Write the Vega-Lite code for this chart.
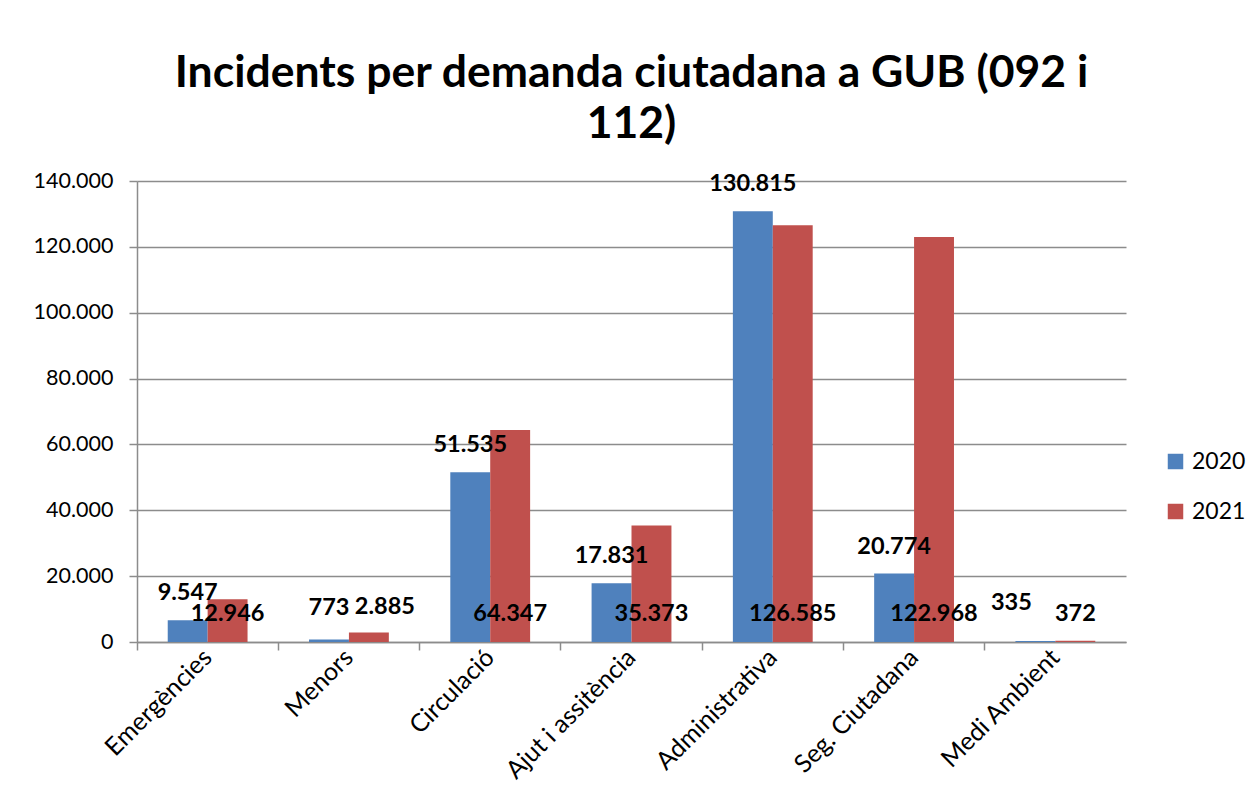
{
  "$schema": "https://vega.github.io/schema/vega-lite/v6.json",
  "autosize": {"type": "none"},
  "width": 989,
  "height": 461,
  "padding": {"left": 137, "top": 181, "right": 133, "bottom": 168},
  "background": "white",
  "title": {
    "text": ["Incidents per demanda ciutadana a GUB (092 i", "112)"],
    "font": "Lato",
    "fontSize": 44.5,
    "fontWeight": "bold",
    "color": "#000000",
    "lineHeight": 51,
    "anchor": "middle",
    "frame": "group",
    "offset": 23
  },
  "config": {
    "view": {"stroke": null},
    "font": "Lato"
  },
  "data": {
    "values": [
      {"cat": "Emergències", "year": "2020", "value": 6600, "label": "9.547"},
      {"cat": "Emergències", "year": "2021", "value": 12946, "label": "12.946"},
      {"cat": "Menors", "year": "2020", "value": 773, "label": "773"},
      {"cat": "Menors", "year": "2021", "value": 2885, "label": "2.885"},
      {"cat": "Circulació", "year": "2020", "value": 51535, "label": "51.535"},
      {"cat": "Circulació", "year": "2021", "value": 64347, "label": "64.347"},
      {"cat": "Ajut i assitència", "year": "2020", "value": 17831, "label": "17.831"},
      {"cat": "Ajut i assitència", "year": "2021", "value": 35373, "label": "35.373"},
      {"cat": "Administrativa", "year": "2020", "value": 130815, "label": "130.815"},
      {"cat": "Administrativa", "year": "2021", "value": 126585, "label": "126.585"},
      {"cat": "Seg. Ciutadana", "year": "2020", "value": 20774, "label": "20.774"},
      {"cat": "Seg. Ciutadana", "year": "2021", "value": 122968, "label": "122.968"},
      {"cat": "Medi Ambient", "year": "2020", "value": 335, "label": "335"},
      {"cat": "Medi Ambient", "year": "2021", "value": 372, "label": "372"}
    ]
  },
  "encoding": {
    "x": {
      "field": "cat",
      "type": "nominal",
      "sort": null,
      "scale": {"paddingInner": 0, "paddingOuter": 0},
      "axis": {
        "title": null,
        "labelAngle": -45,
        "labelAlign": "right",
        "labelBaseline": "middle",
        "labelFont": "Lato",
        "labelFontSize": 25,
        "labelColor": "#000000",
        "labelPadding": 3,
        "bandPosition": 0,
        "tickSize": 8,
        "tickColor": "#8c8c8c",
        "tickWidth": 1.5,
        "domainColor": "#8c8c8c",
        "domainWidth": 1.5,
        "grid": false
      }
    },
    "xOffset": {
      "field": "year",
      "type": "nominal",
      "scale": {"domain": ["2020", "2021"], "paddingInner": 0, "paddingOuter": 0.77}
    }
  },
  "layer": [
    {
      "mark": {"type": "bar"},
      "encoding": {
        "y": {
          "field": "value",
          "type": "quantitative",
          "scale": {"domain": [0, 140000], "nice": false},
          "axis": {
            "title": null,
            "values": [0, 20000, 40000, 60000, 80000, 100000, 120000, 140000],
            "labelExpr": "replace(format(datum.value, ','), ',', '.')",
            "labelFont": "Lato",
            "labelFontSize": 21.5,
            "labelColor": "#000000",
            "labelPadding": 16,
            "tickSize": 8,
            "tickColor": "#8c8c8c",
            "tickWidth": 1.5,
            "domainColor": "#8c8c8c",
            "domainWidth": 1.5,
            "gridColor": "#8c8c8c",
            "gridWidth": 1.5
          }
        },
        "color": {
          "field": "year",
          "type": "nominal",
          "scale": {"domain": ["2020", "2021"], "range": ["#4F81BD", "#C0504D"]},
          "legend": {
            "title": null,
            "orient": "none",
            "legendX": 1027,
            "legendY": 269,
            "symbolType": "square",
            "symbolSize": 240,
            "symbolStrokeWidth": 0,
            "labelFont": "Lato",
            "labelFontSize": 23,
            "labelColor": "#000000",
            "rowPadding": 26,
            "labelOffset": 5
          }
        }
      }
    },
    {
      "transform": [{"filter": "datum.year == '2020' && datum.cat != 'Menors' && datum.cat != 'Medi Ambient'"}],
      "mark": {"type": "text", "font": "Lato", "fontSize": 23.5, "fontWeight": "bold", "baseline": "middle", "align": "center", "dy": -27, "color": "#000000"},
      "encoding": {
        "y": {"field": "value", "type": "quantitative"},
        "text": {"field": "label"}
      }
    },
    {
      "transform": [{"filter": "datum.year == '2020' && datum.cat == 'Menors'"}],
      "mark": {"type": "text", "font": "Lato", "fontSize": 23.5, "fontWeight": "bold", "baseline": "middle", "align": "center", "dy": -34, "color": "#000000"},
      "encoding": {
        "y": {"datum": 0, "type": "quantitative"},
        "text": {"field": "label"}
      }
    },
    {
      "transform": [{"filter": "datum.year == '2020' && datum.cat == 'Medi Ambient'"}],
      "mark": {"type": "text", "font": "Lato", "fontSize": 23.5, "fontWeight": "bold", "baseline": "middle", "align": "center", "dy": -39, "dx": -24, "color": "#000000"},
      "encoding": {
        "y": {"datum": 0, "type": "quantitative"},
        "text": {"field": "label"}
      }
    },
    {
      "transform": [{"filter": "datum.year == '2021' && datum.cat != 'Menors'"}],
      "mark": {"type": "text", "font": "Lato", "fontSize": 23.5, "fontWeight": "bold", "baseline": "middle", "align": "center", "dy": -28, "color": "#000000"},
      "encoding": {
        "y": {"datum": 0, "type": "quantitative"},
        "text": {"field": "label"}
      }
    },
    {
      "transform": [{"filter": "datum.year == '2021' && datum.cat == 'Menors'"}],
      "mark": {"type": "text", "font": "Lato", "fontSize": 23.5, "fontWeight": "bold", "baseline": "middle", "align": "center", "dy": -35, "dx": 16, "color": "#000000"},
      "encoding": {
        "y": {"datum": 0, "type": "quantitative"},
        "text": {"field": "label"}
      }
    }
  ]
}
